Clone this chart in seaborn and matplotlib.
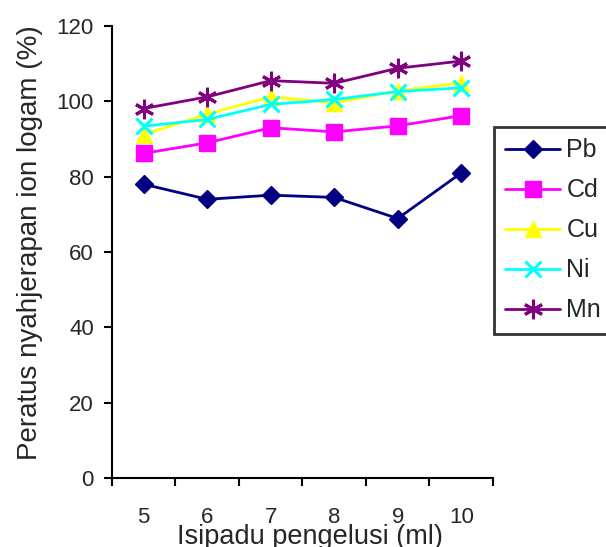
import pandas as pd
import matplotlib
matplotlib.use("Agg")
import matplotlib.pyplot as plt
import seaborn as sns

volumes = [5, 6, 7, 8, 9, 10]
pb = [78.0, 74.0, 75.1, 74.5, 68.9, 81.0]
cd = [86.2, 89.0, 93.0, 91.9, 93.5, 96.2]
cu = [91.2, 96.6, 101.2, 99.6, 102.8, 104.9]
ni = [93.4, 95.2, 99.2, 100.5, 102.6, 103.6]
mn = [98.1, 101.2, 105.5, 104.8, 108.8, 110.7]

series = {"Pb": pb, "Cd": cd, "Cu": cu, "Ni": ni, "Mn": mn}
colors = {"Pb": "#000080", "Cd": "#ff00ff", "Cu": "#ffff00", "Ni": "#00ffff", "Mn": "#800080"}
markers = {"Pb": "D", "Cd": "s", "Cu": "^", "Ni": "x", "Mn": (6, 2, 0)}
msizes = {"Pb": 9, "Cd": 11, "Cu": 11, "Ni": 11, "Mn": 14}

rows = []
for name, vals in series.items():
    for v, y in zip(volumes, vals):
        rows.append({"ml": v, "pct": y, "ion": name})
df = pd.DataFrame(rows)

sns.set_style("white")
plt.rcParams["font.family"] = ["Liberation Sans", "DejaVu Sans"]

fig = plt.figure(figsize=(6.06, 5.47), dpi=100)
ax = fig.add_axes([0.1848, 0.1261, 0.6287, 0.8263])

handles = []
for name in series:
    sub = df[df["ion"] == name]
    sns.lineplot(data=sub, x="ml", y="pct", ax=ax, color=colors[name],
                 marker=markers[name], markersize=msizes[name],
                 markeredgecolor=colors[name], markeredgewidth=2.2 if name in ("Ni", "Mn") else 1,
                 linewidth=2, label=name, legend=False)
    handles.append(ax.lines[-1])

ax.set_xlim(4.5, 10.5)
ax.set_ylim(0, 120)
ax.set_xticks([4.5 + i for i in range(7)])
ax.set_xticklabels([])
ax.set_xticks(volumes, minor=True)
ax.set_xticklabels([str(v) for v in volumes], minor=True, fontsize=16)
ax.tick_params(axis="x", which="major", direction="out", length=6, width=1.5, color="black", bottom=True)
ax.tick_params(axis="x", which="minor", length=0, pad=21)
ax.set_yticks(range(0, 121, 20))
ax.tick_params(axis="y", direction="out", length=6, width=1.5, color="black", left=True,
               labelsize=16, pad=7)

for s in ["top", "right"]:
    ax.spines[s].set_visible(False)
for s in ["left", "bottom"]:
    ax.spines[s].set_color("black")
    ax.spines[s].set_linewidth(1.5)

ax.set_xlabel("Isipadu pengelusi (ml)", fontsize=19.5)
ax.xaxis.set_label_coords(0.52, -0.102)
ax.set_ylabel("Peratus nyahjerapan ion logam (%)", fontsize=20)
ax.yaxis.set_label_coords(-0.181, 0.52)

leg = fig.legend(handles=handles, labels=list(series.keys()), loc="upper left",
                 bbox_to_anchor=(494 / 606, 1 - 127 / 547), fontsize=18,
                 frameon=True, fancybox=False, edgecolor="black",
                 handlelength=2.2, borderpad=0.45, labelspacing=0.64, handletextpad=0.25,
                 borderaxespad=0)
leg.get_frame().set_linewidth(2)

fig.savefig("out.png", dpi=100)
